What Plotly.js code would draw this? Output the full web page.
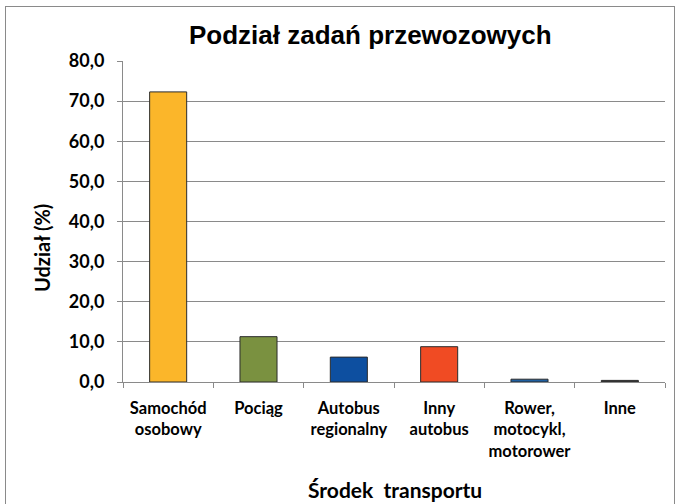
<!DOCTYPE html>
<html><head><meta charset="utf-8">
<script src="https://cdn.plot.ly/plotly-3.0.1.min.js"></script>
<style>
html,body{margin:0;padding:0;background:#fff;}
#frame{position:absolute;left:5px;top:6px;width:668px;height:510px;border:1.5px solid #8a8a8a;pointer-events:none;z-index:10;}
#chart{position:absolute;left:0;top:0;width:679px;height:504px;}
</style></head>
<body>
<div id="chart"></div>
<div id="frame"></div>
<script>
const categories = ["Samochód<br>osobowy","Pociąg","Autobus<br>regionalny","Inny<br>autobus","Rower,<br>motocykl,<br>motorower","Inne"];
const values = [72.3, 11.3, 6.2, 8.8, 0.7, 0.4];
const colors = ["#FBB62A","#7A9140","#0D4FA0","#F04B23","#1F5FA0","#3A3A3A"];
const yTicks = [0,10,20,30,40,50,60,70,80];
const yTickText = ["0,0","10,0","20,0","30,0","40,0","50,0","60,0","70,0","80,0"];

const trace = {
  type:'bar', x:categories, y:values,
  marker:{color:colors, line:{color:'#2b2b2b', width:1}},
  width:0.41, hoverinfo:'none'
};
const layout = {
  width:679, height:504,
  margin:{l:123, r:14, t:61, b:122},
  paper_bgcolor:'#fff', plot_bgcolor:'#fff',
  showlegend:false,
  xaxis:{type:'category', tickson:'boundaries', ticks:'outside', ticklen:5, tickcolor:'#8a8a8a',
    showline:true, linecolor:'#8a8a8a', linewidth:1, showgrid:false, ticklabelstandoff:11, tickangle:0,
    tickfont:{family:'Lato, "Open Sans", sans-serif', size:16.5, color:'#000', weight:'bold'}},
  yaxis:{range:[0,80], tickvals:yTicks, ticktext:yTickText, ticks:'outside', ticklen:5, tickcolor:'#8a8a8a',
    showline:true, linecolor:'#8a8a8a', linewidth:1, gridcolor:'#8a8a8a', gridwidth:1, zeroline:false,
    ticklabelstandoff:9,
    tickfont:{family:'Lato, "Open Sans", sans-serif', size:18, color:'#000', weight:'bold'}},
  annotations:[
    {text:'<b>Podział zadań przewozowych</b>', xref:'paper', yref:'paper', x:(370-123)/542, y:(382-35)/321,
     xanchor:'center', yanchor:'middle', showarrow:false,
     font:{family:'"Liberation Sans", Arial, sans-serif', size:26, color:'#000'}},
    {text:'<b>Środek  transportu</b>', xref:'paper', yref:'paper', x:(395-123)/542, y:(382-489)/321,
     xanchor:'center', yanchor:'middle', showarrow:false,
     font:{family:'Lato, "Open Sans", sans-serif', size:21, color:'#000'}},
    {text:'<b>Udział (%)</b>', xref:'paper', yref:'paper', x:(42-123)/542, y:(382-248)/321,
     xanchor:'center', yanchor:'middle', showarrow:false, textangle:-90,
     font:{family:'Lato, "Open Sans", sans-serif', size:20, color:'#000'}}
  ]
};
Plotly.newPlot('chart',[trace],layout,{displayModeBar:false, staticPlot:true});
</script>
</body></html>
